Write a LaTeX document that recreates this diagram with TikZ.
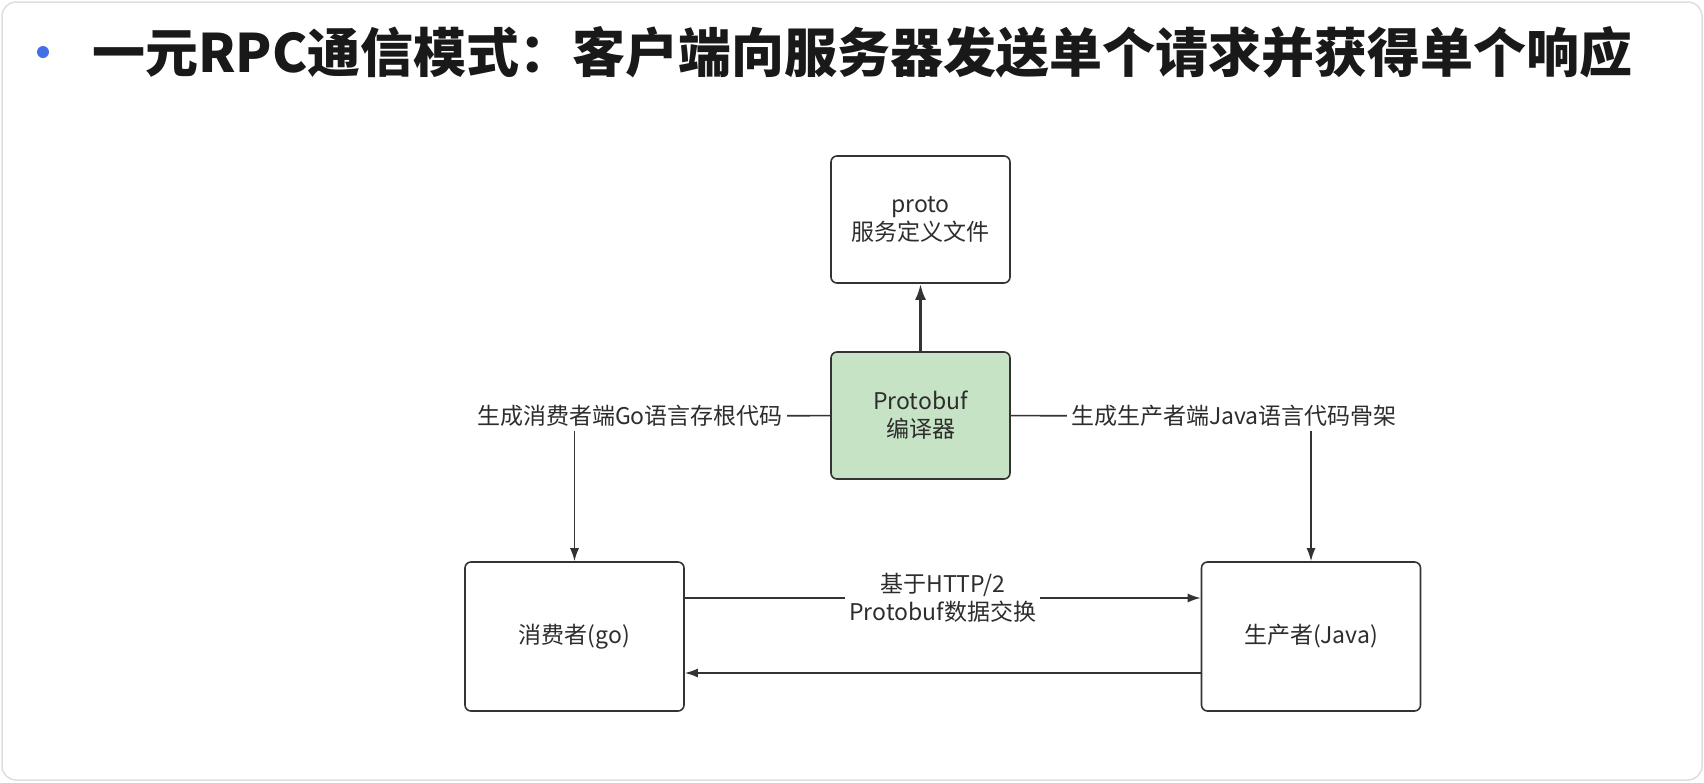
\documentclass[tikz,border=0pt]{standalone}
\usepackage{fontspec}
\setmainfont{Noto Sans CJK SC}
\usetikzlibrary{arrows.meta,positioning}
\definecolor{BoxLine}{RGB}{51,51,51}
\definecolor{CompGreen}{RGB}{198,228,197}
\definecolor{TextGray}{RGB}{45,45,45}
\definecolor{TitleBlack}{RGB}{25,25,25}
\definecolor{FrameGray}{RGB}{222,222,222}
\definecolor{BulletBlue}{RGB}{66,110,230}
\newcommand{\boxfont}{\fontsize{23}{28}\selectfont}
\newcommand{\titlefont}{\fontsize{53}{60}\selectfont\bfseries}

\begin{document}
\begin{tikzpicture}[x=1pt,y=-1pt,>={Latex[length=13pt,width=9pt]},
    box/.style={draw=BoxLine,line width=1.6pt,rounded corners=6pt,
      minimum width=179pt,minimum height=127pt,align=center,
      font=\boxfont,text=TextGray},
    wide/.style={minimum width=219pt,minimum height=149pt},
    lbl/.style={font=\boxfont,text=TextGray,inner sep=4pt,align=center},
    link/.style={BoxLine,line width=1.6pt}]
  \useasboundingbox (0,0) rectangle (1704,782);
  \draw[FrameGray,line width=1.5pt,rounded corners=14pt] (2,2) rectangle (1702,780);
  % title
  \fill[BulletBlue] (43,52) circle (6);
  \node[anchor=west,font=\titlefont,text=TitleBlack,inner sep=0pt] (title) at (92,52)
    {一元RPC通信模式：客户端向服务器发送单个请求并获得单个响应};
  % boxes
  \node[box] (proto) at (920.5,219.5) {proto\\服务定义文件};
  \node[box,fill=CompGreen] (protoc) at (920.5,415.5) {Protobuf\\编译器};
  \node[box,wide] (consumer) at (574.5,636.5) {消费者(go)};
  \node[box,wide] (producer) at (1311,636.5) {生产者(Java)};
  \node[lbl] (golabel) at (630,416) {生成消费者端Go语言存根代码};
  \node[lbl] (javalabel) at (1234,416) {生成生产者端Java语言代码骨架};
  % connectors
  \draw[link,line width=2.8pt,-{Latex[length=16pt,width=11pt]}] (protoc) -- (proto);
  \draw[link] (protoc) -- (golabel);
  \draw[link,->] (golabel.south -| consumer.north) -- (consumer);
  \draw[link] (protoc) -- (javalabel);
  \draw[link,->] (javalabel.south -| producer.north) -- (producer);
  \draw[link,->] ([yshift=38.5pt]consumer.east) -- ([yshift=38.5pt]producer.west)
    node[midway,lbl,fill=white] (http) {基于HTTP/2\\Protobuf数据交换};
  \draw[link,->] ([yshift=-36.5pt]producer.west) -- ([yshift=-36.5pt]consumer.east);
\end{tikzpicture}
\end{document}
